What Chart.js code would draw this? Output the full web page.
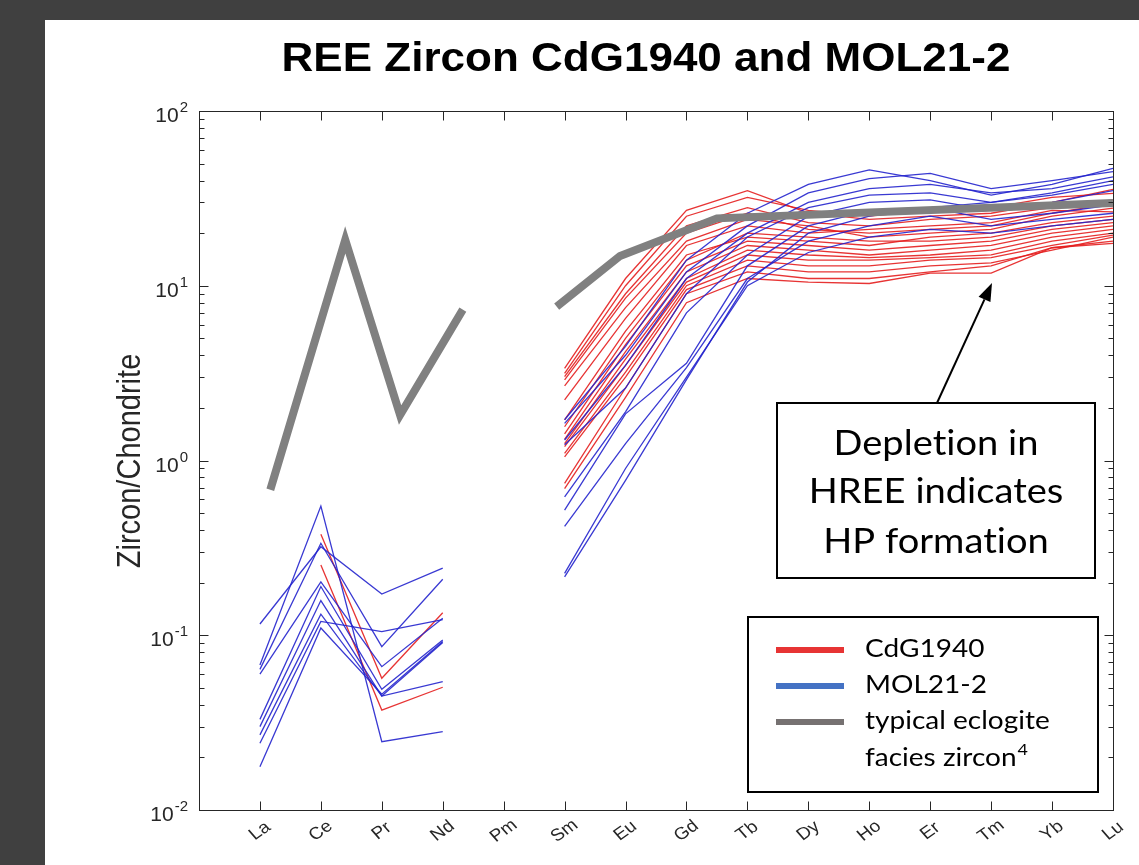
<!DOCTYPE html>
<html><head><meta charset="utf-8">
<script src="https://cdn.jsdelivr.net/npm/chart.js@4.4.0/dist/chart.umd.min.js"></script>
<style>
html,body{margin:0;padding:0;background:#404040;width:1139px;height:865px;overflow:hidden;}
#panel{position:absolute;left:45px;top:20px;width:1094px;height:845px;background:#fff;}
canvas{display:block;}
</style></head><body>
<div id="panel"><canvas id="c" width="1094" height="845"></canvas></div>
<script>
const elements = ['La','Ce','Pr','Nd','Pm','Sm','Eu','Gd','Tb','Dy','Ho','Er','Tm','Yb','Lu'];
const yTickExponents = [2, 1, 0, -1, -2];
const n = null;
// CdG1940 zircon analyses (chondrite normalised)
const cdg1940 = [
  [n,n,n,n,n, 3.37, 11, 27, 35, 26, 24, 25, 26, 30, 35.6],
  [n,n,n,n,n, 3.15, 10, 25, 32, 27, 25, 27, 28, 32, 33.8],
  [n,n,n,n,n, 3.02, 9, 22, 28, 23, 22, 24, 25, 28, 31],
  [n,n,n,n,n, 2.89, 8.5, 20, 26, 21, 20, 21, 22, 26, 29.6],
  [n,n,n,n,n, 2.67, 7.5, 18, 24, 22, 19, 20, 21, 25, 27.8],
  [n,n,n,n,n, 2.22, 6.5, 17, 22, 20, 21, 22, 23, 27, 26.5],
  [n,0.378,0.0567,0.1346,n, 1.71, 5.5, 15, 19, 18, 17, 19, 20, 23, 25],
  [n,n,n,n,n, 1.56, 5.0, 14, 20, 19, 18, 18, 19, 22, 24],
  [n,n,n,n,n, 1.42, 4.6, 13, 18, 17, 16, 17, 18, 21, 23],
  [n,n,n,n,n, 1.32, 4.2, 12, 17, 16, 15, 16, 17, 20, 22],
  [n,n,n,n,n, 1.25, 3.8, 11, 16, 15, 14.5, 15, 16, 19, 21],
  [n,0.252,0.0373,0.0504,n, 1.20, 3.5, 10.5, 15, 14, 14, 14.5, 15, 18, 20],
  [n,n,n,n,n, 1.10, 3.2, 10, 14, 13, 13, 14, 14.5, 17, 19.5],
  [n,n,n,n,n, 1.05, 3.0, 9.5, 13, 12, 12, 13, 13.5, 16, 19],
  [n,n,n,n,n, 0.74, 2.6, 9, 12, 11, 11, 12, 13, 16.5, 18],
  [n,n,n,n,n, 0.69, 2.3, 8, 11, 10.5, 10.3, 11.8, 11.8, 16.5, 17.5]
];
// MOL21-2 zircon analyses
const mol21_2 = [
  [0.116,0.321,0.172,0.242,n, 1.71, 4.5, 14, 26, 38, 46, 40, 33, 38, 47],
  [0.0676,0.549,0.0246,0.0281,n, 1.63, 4.0, 12, 22, 34, 41, 44, 36, 40, 45],
  [0.0638,0.336,0.086,0.209,n, 1.31, 3.5, 11, 20, 30, 36, 38, 34, 36, 42],
  [0.060,0.202,0.0661,0.125,n, 1.23, 2.6, 9, 19, 28, 33, 34, 30, 33, 38],
  [0.033,0.190,0.0491,0.094,n, 0.62, 1.9, 7, 15, 25, 30, 31, 27, 30, 35],
  [0.030,0.158,0.0449,0.091,n, 0.52, 1.85, 3.6, 13, 22, 27, 28, 24, 26, 29],
  [0.0269,0.132,0.0449,0.0542,n, 0.42, 1.25, 3.4, 11, 18, 22, 25, 22, 24, 26],
  [0.0241,0.120,0.105,0.123,n, 0.226, 0.9, 3.0, 10, 15.5, 19, 21, 20, 22, 24],
  [0.0177,0.110,0.046,0.092,n, 0.216, 0.77, 2.9, 10.5, 20, 25, 28, 30, 34, 40]
];
// typical eclogite facies zircon reference pattern (x in element-position units)
const eclogiteX = [1.17, 2.40, 3.30, 4.33, 5.1, 5.87, 6.91, 8.5, 15];
const eclogiteY = [0.68, 18.3, 1.82, 7.3, null, 7.6, 14.8, 24.3, 29.8];

const SX = 1.12;
const RED = 'rgba(228,30,30,0.9)';
const BLUE = 'rgba(35,35,205,0.9)';
const GRAY = '#808080';

function txt(ctx, s, x, y, font, opt = {}) {
  ctx.save();
  ctx.translate(x, y);
  ctx.scale(opt.sx || SX, 1);
  if (opt.rot) ctx.rotate(opt.rot);
  ctx.font = font;
  if ('letterSpacing' in ctx) ctx.letterSpacing = '0.01px';
  ctx.fillStyle = opt.color || '#000';
  ctx.textAlign = opt.align || 'left';
  ctx.textBaseline = opt.base || 'alphabetic';
  ctx.fillText(s, 0, 0);
  const w = ctx.measureText(s).width * (opt.sx || SX);
  ctx.restore();
  return w;
}

const toPts = row => row.map((v, i) => ({x: i + 1, y: v}));
const datasets = [];
datasets.push({
  label: 'typical eclogite facies zircon',
  data: eclogiteX.map((x, i) => ({x, y: eclogiteY[i]})),
  borderColor: GRAY, borderWidth: 8, order: 0, borderCapStyle: 'butt', borderJoinStyle: 'miter'
});
mol21_2.forEach((r, i) => datasets.push({label: 'MOL21-2 #' + (i + 1), data: toPts(r), borderColor: BLUE, borderWidth: 1.3, order: 1}));
cdg1940.forEach((r, i) => datasets.push({label: 'CdG1940 #' + (i + 1), data: toPts(r), borderColor: RED, borderWidth: 1.3, order: 2}));

const decor = {
  id: 'decor',
  afterDatasetsDraw(chart) {
    const {ctx, chartArea: a, scales: {x, y}} = chart;
    ctx.save();
    const L = Math.round(a.left) + 0.5, R = Math.round(a.right) + 0.5, T = Math.round(a.top) + 0.5, B = Math.round(a.bottom) + 0.5;
    ctx.strokeStyle = '#262626'; ctx.lineWidth = 1;
    ctx.beginPath();
    for (let i = 1; i < elements.length; i++) {
      const px = Math.round(x.getPixelForValue(i)) + 0.5;
      ctx.moveTo(px, B); ctx.lineTo(px, B - 9);
      ctx.moveTo(px, T); ctx.lineTo(px, T + 9);
    }
    for (let e = -2; e < 2; e++) {
      for (let m = 1; m < 10; m++) {
        const py = Math.round(y.getPixelForValue(m * Math.pow(10, e))) + 0.5;
        const len = m === 1 ? 9 : 5;
        ctx.moveTo(L, py); ctx.lineTo(L + len, py);
        ctx.moveTo(R, py); ctx.lineTo(R - len, py);
      }
    }
    ctx.stroke();
    ctx.strokeRect(L, T, R - L, B - T);

    // y tick labels 10^n
    yTickExponents.forEach(e => {
      const py = y.getPixelForValue(Math.pow(10, e));
      const ex = String(e);
      const ew = txt(ctx, ex, a.left - 11, py + 1, '15px "Liberation Sans"', {align: 'right', color: '#262626', sx: 1});
      txt(ctx, '10', a.left - 12 - ew, py + 11, '21px "Liberation Sans"', {align: 'right', color: '#262626', sx: 1});
    });
    // x tick labels
    elements.forEach((el, i) => {
      const px = x.getPixelForValue(i + 1);
      txt(ctx, el, px, a.bottom + 21, '17px "Liberation Sans"', {align: 'center', base: 'middle', rot: -38 * Math.PI / 180, color: '#262626'});
    });
    // axis title
    txt(ctx, 'Zircon/Chondrite', 95, 441, '29px "Liberation Sans"', {align: 'center', rot: -Math.PI / 2, color: '#262626'});
    // chart title
    txt(ctx, 'REE Zircon CdG1940 and MOL21-2', 601, 51, 'bold 40px "Liberation Sans"', {align: 'center', sx: 1.1});

    // legend
    ctx.fillStyle = '#fff'; ctx.strokeStyle = '#000'; ctx.lineWidth = 2;
    ctx.fillRect(703, 597, 350, 175); ctx.strokeRect(703, 597, 350, 175);
    const sw = [[RED, 630], ['#4472c4', 666], ['#767171', 702]];
    sw.forEach(([c, yy]) => { ctx.fillStyle = c; ctx.fillRect(731, yy - 3, 68, 6); });
    const LF = '25px Lato';
    txt(ctx, 'CdG1940', 820, 637, LF);
    txt(ctx, 'MOL21-2', 820, 673, LF);
    txt(ctx, 'typical eclogite', 820, 709, LF);
    const fw = txt(ctx, 'facies zircon', 820, 746, LF);
    txt(ctx, '4', 821 + fw, 735, '16px Lato');

    // annotation box
    ctx.fillStyle = '#fff'; ctx.strokeStyle = '#000'; ctx.lineWidth = 2;
    ctx.fillRect(732, 383, 318, 175); ctx.strokeRect(732, 383, 318, 175);
    const AF = '34px Lato';
    txt(ctx, 'Depletion in', 891, 435, AF, {align: 'center'});
    txt(ctx, 'HREE indicates', 891, 483, AF, {align: 'center'});
    txt(ctx, 'HP formation', 891, 533, AF, {align: 'center'});

    // arrow
    const x0 = 892, y0 = 383, x1 = 947, y1 = 263;
    const ang = Math.atan2(y1 - y0, x1 - x0);
    const hl = 18, hw = 6.5;
    const bx = x1 - hl * Math.cos(ang), by = y1 - hl * Math.sin(ang);
    ctx.strokeStyle = '#000'; ctx.lineWidth = 2;
    ctx.beginPath(); ctx.moveTo(x0, y0); ctx.lineTo(bx, by); ctx.stroke();
    ctx.fillStyle = '#000';
    ctx.beginPath();
    ctx.moveTo(x1, y1);
    ctx.lineTo(bx + hw * Math.sin(ang), by - hw * Math.cos(ang));
    ctx.lineTo(bx - hw * Math.sin(ang), by + hw * Math.cos(ang));
    ctx.closePath(); ctx.fill();
    ctx.restore();
  }
};

new Chart(document.getElementById('c'), {
  type: 'line',
  data: {datasets},
  options: {
    responsive: false, animation: false, devicePixelRatio: 1,
    events: [],
    parsing: true,
    spanGaps: false,
    elements: {point: {radius: 0}, line: {tension: 0}},
    layout: {padding: {left: 154, right: 26, top: 91, bottom: 55}},
    plugins: {legend: {display: false}, tooltip: {enabled: false}, title: {display: false}},
    scales: {
      x: {type: 'linear', min: 0, max: 15, display: false},
      y: {type: 'logarithmic', min: 0.01, max: 100, display: false}
    }
  },
  plugins: [decor]
});
</script>
</body></html>
